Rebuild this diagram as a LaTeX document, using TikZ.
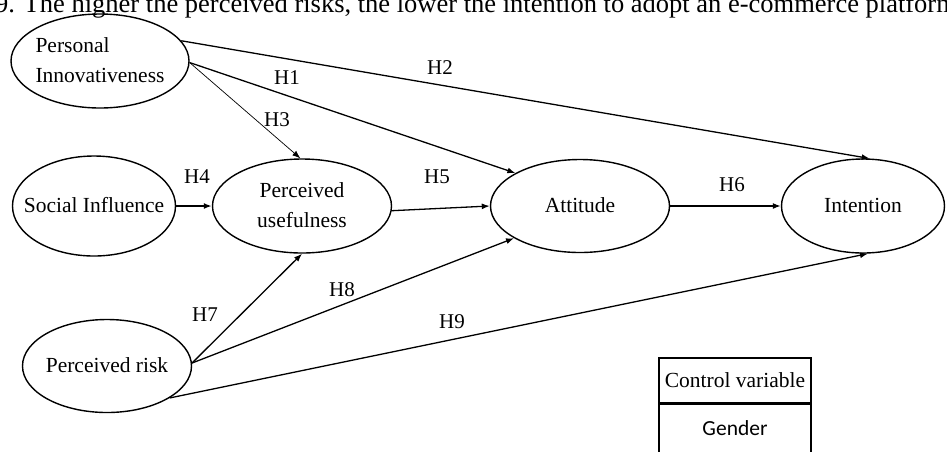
\documentclass[tikz,border=0pt]{standalone}
\usepackage{fontspec}
\setmainfont{Liberation Serif}
\newfontfamily\calibrifont{Carlito}
\usetikzlibrary{shapes.geometric, arrows.meta}
% text that does not widen its ellipse
\newcommand{\constructlabel}[2][c]{\makebox[0pt]{\begin{tabular}{@{}#1@{}}#2\end{tabular}}}

\begin{document}
\begin{tikzpicture}[
        x=1pt, y=-1pt,
        font=\fontsize{21.5}{30}\selectfont,
        construct/.style={ellipse, draw, line width=1.4pt, inner sep=0pt},
        path_arrow/.style={line width=1.3pt, -{Latex[length=8pt, width=6pt]}},
        thin_arrow/.style={line width=0.7pt, -{Latex[length=8pt, width=6pt]}},
        thick_arrow/.style={line width=2pt, -{Latex[length=8pt, width=6pt]}},
        hyp/.style={font=\fontsize{21}{24}\selectfont, inner sep=0pt},
        ctrlbox/.style={rectangle, draw, line width=1.4pt, minimum width=152pt, inner sep=0pt}
    ]
    \useasboundingbox (0,0) rectangle (947,451);
    \clip (0,0) rectangle (947,451);

    % Caption line cut at the top
    \node[anchor=base east, inner sep=0pt, font=\fontsize{26.5}{30}\selectfont] (caption) at (957,12)
        {9. The higher the perceived risks, the lower the intention to adopt an e-commerce platform};

    % Constructs
    \node[construct, minimum width=178pt, minimum height=94pt] (pi) at (100,61) {\constructlabel[l]{Personal\\Innovativeness}};
    \node[construct, minimum width=163pt, minimum height=100pt] (si) at (94,206) {\constructlabel{Social Influence}};
    \node[construct, minimum width=179pt, minimum height=94pt] (pu) at (302,206) {\constructlabel{Perceived\\usefulness}};
    \node[construct, minimum width=179pt, minimum height=93pt] (att) at (580,206) {\constructlabel{Attitude}};
    \node[construct, minimum width=163pt, minimum height=94pt] (int) at (863,206) {\constructlabel{Intention}};
    \node[construct, minimum width=169pt, minimum height=93pt] (pr) at (107,366) {\constructlabel{Perceived risk}};

    % Paths
    \draw[path_arrow] (pi.14) -- (int.82);
    \draw[path_arrow] (pi.-1) -- (att.153);
    \draw[thin_arrow] (pi.-1) -- (pu.92);
    \draw[thick_arrow] (si.east) -- (pu.west);
    \draw[path_arrow] (pu.-3) -- (att.west);
    \draw[path_arrow] (att.east) -- (int.west);
    \draw[path_arrow] (pr.2) -- (pu.south);
    \draw[path_arrow] (pr.2) -- (att.206);
    \draw[path_arrow] (pr.-27) -- (int.-84);

    % Hypothesis labels
    \foreach \h/\x/\y in {1/287/78, 2/440/68, 3/277/120, 4/197/177, 5/437/177,
                          6/732/185, 7/205/315, 8/342/290, 9/452/322} {
        \node[hyp] (h\h) at (\x,\y) {H\h};
    }

    % Control variable table
    \node[ctrlbox, minimum height=45pt] (ctrl) at (735,380.5) {Control variable};
    \node[ctrlbox, minimum height=58pt, anchor=north, font=\calibrifont\fontsize{21.5}{24}\selectfont,
          text depth=10pt] (gender) at (ctrl.south) {Gender};

\end{tikzpicture}
\end{document}
